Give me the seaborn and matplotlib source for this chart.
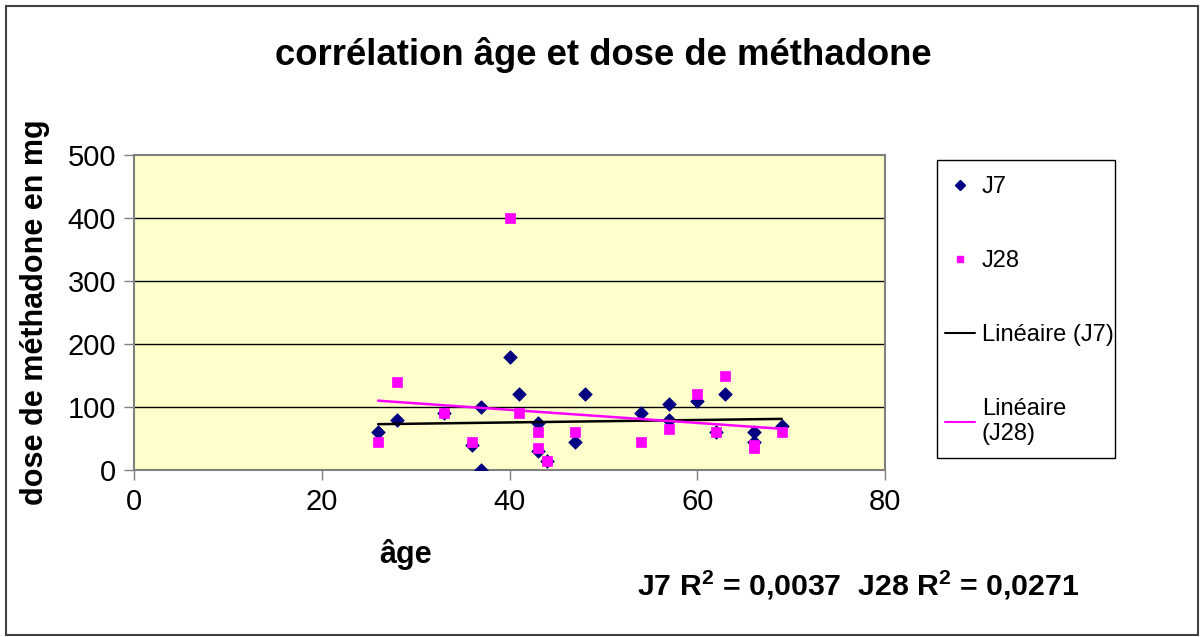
import numpy as np
import pandas as pd
import matplotlib
matplotlib.use("Agg")
import matplotlib.pyplot as plt
import seaborn as sns
from matplotlib.lines import Line2D
from matplotlib.patches import Rectangle

# ---- data ----
age_j7 = [26, 28, 33, 36, 37, 37, 40, 41, 43, 43, 44, 47, 48, 54, 57, 57, 60, 62, 63, 66, 66, 69]
dose_j7 = [60, 80, 90, 40, 100, 0, 180, 120, 75, 30, 15, 45, 120, 90, 105, 80, 110, 60, 120, 60, 45, 70]

age_j28 = [26, 28, 33, 36, 40, 41, 43, 43, 44, 47, 54, 57, 60, 62, 63, 66, 66, 69]
dose_j28 = [45, 140, 90, 45, 400, 90, 60, 35, 15, 60, 45, 65, 120, 60, 150, 40, 35, 60]

x_ticks = [0, 20, 40, 60, 80]
y_ticks = [0, 100, 200, 300, 400, 500]

title = "corrélation âge et dose de méthadone"
xlabel = "âge"
ylabel = "dose de méthadone en mg"
r2_text = r"J7 R$^{\mathbf{2}}$ = 0,0037  J28 R$^{\mathbf{2}}$ = 0,0271"

sns.set_theme(style="white")
plt.rcParams['font.family'] = ['Liberation Sans', 'DejaVu Sans']
plt.rcParams['mathtext.fontset'] = 'custom'
plt.rcParams['mathtext.rm'] = 'Liberation Sans:bold'
plt.rcParams['mathtext.bf'] = 'Liberation Sans:bold'
plt.rcParams['text.color'] = 'black'
plt.rcParams['xtick.labelcolor'] = 'black'
plt.rcParams['ytick.labelcolor'] = 'black'

df7 = pd.DataFrame({"age": age_j7, "dose": dose_j7})
df28 = pd.DataFrame({"age": age_j28, "dose": dose_j28})

fig = plt.figure(figsize=(12, 6.37), dpi=100)
ax = fig.add_axes([134/1200, 1-470/637, (885-134)/1200, (470-155)/637])
ax.set_facecolor("#FFFFCC")

# grid lines (black) at each y tick
for yv in y_ticks[1:-1]:
    ax.axhline(yv, color="black", lw=1.0, zorder=1)

navy = "#000080"
mag = "#FF00FF"

sns.scatterplot(data=df7, x="age", y="dose", marker="D", color=navy, s=48,
                edgecolor=navy, linewidth=0.5, ax=ax, zorder=3, legend=False)
sns.scatterplot(data=df28, x="age", y="dose", marker="s", color=mag, s=45,
                edgecolor=mag, linewidth=0.5, ax=ax, zorder=4, legend=False)

# linear trend lines
for df, col in [(df7, "black"), (df28, mag)]:
    k, b = np.polyfit(df["age"], df["dose"], 1)
    xs = np.array([df["age"].min(), df["age"].max()])
    sns.lineplot(x=xs, y=k*xs + b, color=col, lw=1.8, ax=ax, zorder=5)

ax.set_xlim(0, 80)
ax.set_ylim(0, 500)
ax.set_xticks(x_ticks)
ax.set_yticks(y_ticks)
ax.tick_params(axis="both", labelsize=21, length=7, width=1, color="#808080",
               labelcolor="black", direction="out", pad=6, bottom=True, left=True)
for s in ax.spines.values():
    s.set_color("#808080")
    s.set_linewidth(1.5)
ax.set_xlabel("")
ax.set_ylabel("")

fig.text(603/1200, 1-55/637, title, ha="center", va="center",
         fontsize=26.3, fontweight="bold", color="black")
fig.text(35/1200, 1-312/637, ylabel, ha="center", va="center",
         rotation=90, fontsize=22, fontweight="bold", color="black")
fig.text(406/1200, 1-554/637, xlabel, ha="center", va="center",
         fontsize=22, fontweight="bold", color="black")
fig.text(858/1200, 1-585/637, r2_text, ha="center", va="center",
         fontsize=21.8, fontweight="bold", color="black")

handles = [
    Line2D([], [], marker="D", color=navy, ls="none", markersize=5),
    Line2D([], [], marker="s", color=mag, ls="none", markersize=5),
    Line2D([], [], color="black", lw=1.5),
    Line2D([], [], color=mag, lw=1.5),
]
labels = ["J7", "J28", "Linéaire (J7)", "Linéaire\n(J28)"]
leg = fig.legend(handles, labels, loc="upper left",
                 bbox_to_anchor=(937/1200, 1-168/637, 178/1200, 0),
                 mode="expand", fontsize=17, frameon=False,
                 handlelength=1.25, handletextpad=0.3,
                 labelspacing=2.2, borderpad=0.35, borderaxespad=0)
# legend box
fig.patches.append(Rectangle((937/1200, 1-458/637), 178/1200, 298/637,
                             transform=fig.transFigure, fill=False,
                             edgecolor="black", lw=1.0))

# outer chart frame
fig.patches.append(Rectangle((6/1200, 2/637), (1198-6)/1200, (631-2)/637,
                             transform=fig.transFigure, fill=False,
                             edgecolor="#404040", lw=1.5))

fig.savefig("out.png", dpi=100)
